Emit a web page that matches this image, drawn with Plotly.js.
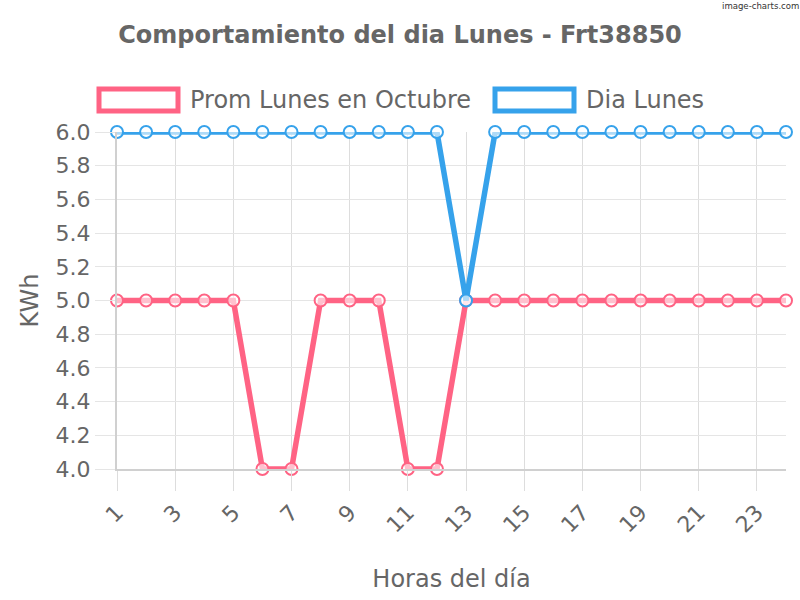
<!DOCTYPE html>
<html>
<head>
<meta charset="utf-8">
<script src="https://cdn.plot.ly/plotly-3.0.1.min.js"></script>
<style>html,body{margin:0;padding:0;background:#fff}#chart{width:800px;height:600px}</style>
</head>
<body>
<div id="chart"></div>
<script>
const hours = [1,2,3,4,5,6,7,8,9,10,11,12,13,14,15,16,17,18,19,20,21,22,23,24];
const promLunes = [5,5,5,5,5,4,4,5,5,5,4,4,5,5,5,5,5,5,5,5,5,5,5,5];
const diaLunes = [6,6,6,6,6,6,6,6,6,6,6,6,5,6,6,6,6,6,6,6,6,6,6,6];
const seriesNames = ["Prom Lunes en Octubre", "Dia Lunes"];
const seriesColors = ["#FF6384", "#36A2EB"];
const xTickVals = [1,3,5,7,9,11,13,15,17,19,21,23];
const yTickVals = [4.0,4.2,4.4,4.6,4.8,5.0,5.2,5.4,5.6,5.8,6.0];

const font = "DejaVu Sans, sans-serif";
function trace(y, i) {
  return {
    x: hours, y: y, type: 'scatter', mode: 'lines+markers', name: seriesNames[i],
    line: {color: seriesColors[i], width: 5.5},
    marker: {symbol: 'circle', size: 12, color: 'rgba(255,255,255,0.6)', line: {color: seriesColors[i], width: 2}},
    cliponaxis: false, showlegend: false
  };
}
const data = [trace(promLunes, 0), trace(diaLunes, 1)];

const L = 117, R = 786, T = 132, B = 469;
const W = R - L, H = B - T;
function px(x){return (x - L) / W;}
function py(y){return (B - y) / H;}
const legendShapes = [
  {type:'rect', xref:'paper', yref:'paper', x0:px(99), x1:px(178), y0:py(111), y1:py(89), line:{color:seriesColors[0], width:5}, fillcolor:'rgba(0,0,0,0)'},
  {type:'rect', xref:'paper', yref:'paper', x0:px(495), x1:px(574), y0:py(111), y1:py(89), line:{color:seriesColors[1], width:5}, fillcolor:'rgba(0,0,0,0)'}
];
const annotations = [
  {xref:'paper', yref:'paper', x:px(188), y:py(100), xanchor:'left', yanchor:'middle', text:seriesNames[0], showarrow:false, font:{family:font, size:24, color:'#666'}},
  {xref:'paper', yref:'paper', x:px(584), y:py(100), xanchor:'left', yanchor:'middle', text:seriesNames[1], showarrow:false, font:{family:font, size:24, color:'#666'}},
  {xref:'paper', yref:'paper', x:px(801), y:py(6), xanchor:'right', yanchor:'middle', text:'image-charts.com', showarrow:false, font:{family:'DejaVu Sans Condensed, DejaVu Sans, sans-serif', size:9.5, color:'#333'}}
];

const layout = {
  width: 800, height: 600,
  margin: {l: L, r: 800 - R, t: T, b: 600 - B, pad: 0},
  paper_bgcolor: '#fff', plot_bgcolor: '#fff',
  title: {text: '<b>Comportamiento del dia Lunes - Frt38850</b>', font: {family: font, size: 24, color: '#666'}, x: 0.5, xanchor: 'center', y: 1 - 35/600, yanchor: 'middle'},
  showlegend: false,
  xaxis: {
    range: [1, 24], tickmode: 'array', tickvals: xTickVals, tickangle: -45,
    ticks: 'outside', ticklen: 20, tickcolor: '#dddddd', tickwidth: 1,
    showgrid: true, gridcolor: '#dddddd', zeroline: false,
    showline: true, linecolor: '#d0d0d0', linewidth: 2,
    tickfont: {family: font, size: 22, color: '#666'},
    title: {text: 'Horas del día', font: {family: font, size: 24, color: '#666'}, standoff: 34}
  },
  yaxis: {
    range: [4, 6], tickmode: 'array', tickvals: yTickVals, tickformat: '.1f',
    ticks: 'outside', ticklen: 20, tickcolor: '#e5e5e5', tickwidth: 1,
    showgrid: true, gridcolor: '#e5e5e5', zeroline: false,
    showline: true, linecolor: '#d0d0d0', linewidth: 2,
    tickfont: {family: font, size: 22, color: '#666'},
    title: {text: 'KWh', font: {family: font, size: 24, color: '#666'}, standoff: 10}
  },
  shapes: legendShapes,
  annotations: annotations
};
Plotly.newPlot('chart', data, layout, {displayModeBar: false, staticPlot: true});
</script>
</body>
</html>
